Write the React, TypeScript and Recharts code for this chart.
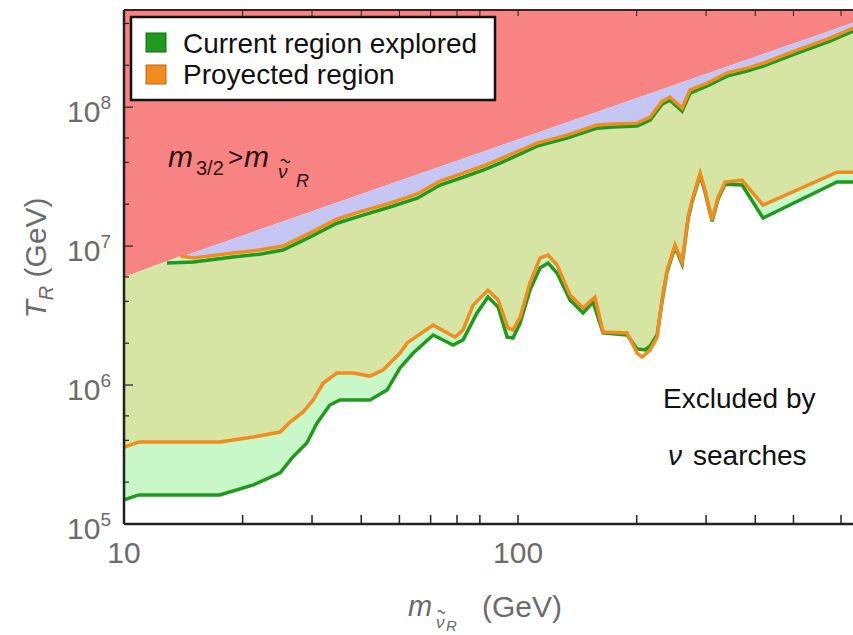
import { ComposedChart, Area, Line, XAxis, YAxis } from "recharts";

// [m (GeV), T_R (GeV)] pairs
const gravitinoBound: [number, number][] = [
  [10, 6.0e6],
  [708, 4.05e8],
];

const currentUpper: [number, number][] = [
  [12.85, 7.55e6], [15.0, 7.67e6], [18.9, 8.34e6], [22.1, 8.75e6], [25.3, 9.36e6],
  [29.6, 1.16e7], [34.7, 1.46e7], [40.4, 1.67e7], [47.3, 1.91e7], [55.5, 2.21e7],
  [63.4, 2.75e7], [72.5, 3.13e7], [81.5, 3.52e7], [90.0, 3.95e7], [111.7, 5.24e7],
  [133.1, 5.98e7], [158.7, 7.06e7], [174.2, 7.18e7], [200.4, 7.3e7], [216.4, 8.06e7],
  [231.9, 1.05e8], [243, 1.12e8], [260.8, 9.36e7], [273.3, 1.26e8], [302, 1.42e8],
  [339, 1.67e8], [381, 1.82e8], [419, 1.97e8], [511, 2.45e8], [619, 2.98e8], [708, 3.52e8],
];

const projectedUpper: [number, number][] = [
  [13.9, 8.47e6], [15.0, 8.2e6], [18.9, 8.91e6], [22.1, 9.36e6], [25.3, 1.0e7],
  [29.6, 1.24e7], [34.7, 1.56e7], [40.4, 1.79e7], [47.3, 2.04e7], [55.5, 2.37e7],
  [63.4, 2.94e7], [72.5, 3.35e7], [81.5, 3.77e7], [90.0, 4.23e7], [111.7, 5.51e7],
  [133.1, 6.29e7], [158.7, 7.43e7], [174.2, 7.55e7], [200.4, 7.67e7], [216.4, 8.47e7],
  [231.9, 1.1e8], [243, 1.18e8], [260.8, 9.84e7], [273.3, 1.33e8], [302, 1.49e8],
  [339, 1.76e8], [381, 1.91e8], [419, 2.07e8], [511, 2.57e8], [619, 3.14e8], [708, 3.7e8],
];

const currentLower: [number, number][] = [
  [10, 1.49e5], [10.9, 1.62e5], [17.5, 1.62e5], [21.3, 1.91e5], [24.9, 2.33e5],
  [26.8, 3.03e5], [29.1, 3.83e5], [30.9, 5.33e5], [33.3, 7.18e5], [35.3, 7.8e5],
  [42.1, 7.8e5], [46.5, 9.2e5], [50.2, 1.33e6], [54.2, 1.7e6], [60.9, 2.29e6],
  [68.4, 1.94e6], [72.5, 2.11e6], [78.7, 3.3e6], [83.9, 4.3e6], [89.0, 3.64e6],
  [93.8, 2.21e6], [97.1, 2.18e6], [101.2, 2.79e6], [107.2, 4.82e6], [113.7, 6.95e6],
  [119.2, 7.55e6], [125.6, 6.39e6], [135.5, 4.09e6], [146.2, 3.3e6], [155.0, 3.96e6],
  [164.3, 2.37e6], [189.1, 2.29e6], [200.4, 1.82e6], [210.1, 1.79e6], [216.4, 1.91e6],
  [225.4, 2.29e6], [231.9, 3.96e6], [238.8, 6.5e6], [250.3, 9.84e6], [260.8, 7.43e6],
  [270.1, 1.56e7], [276.4, 2.07e7], [289.8, 3.24e7], [298.3, 2.44e7], [310.8, 1.51e7],
  [321.8, 2.18e7], [335.3, 2.79e7], [370.3, 2.75e7], [418.6, 1.59e7], [645, 2.89e7],
  [708, 2.89e7],
];

const projectedLower: [number, number][] = [
  [10, 3.58e5], [10.9, 3.89e5], [17.5, 3.89e5], [21.3, 4.23e5], [24.9, 4.59e5],
  [26.4, 5.42e5], [28.5, 6.4e5], [30.2, 7.8e5], [32.0, 1.03e6], [34.7, 1.22e6],
  [38.1, 1.22e6], [42.1, 1.16e6], [45.4, 1.28e6], [50.2, 1.7e6], [52.3, 2.01e6],
  [60.9, 2.7e6], [69.2, 2.21e6], [72.5, 2.49e6], [76.9, 3.76e6], [83.9, 4.82e6],
  [89.0, 4.09e6], [94.3, 2.57e6], [97.1, 2.49e6], [101.2, 3.08e6], [107.2, 5.42e6],
  [113.7, 8.2e6], [119.2, 8.61e6], [125.6, 7.3e6], [135.5, 4.44e6], [146.2, 3.58e6],
  [156.7, 4.3e6], [164.3, 2.41e6], [189.1, 2.37e6], [200.4, 1.7e6], [206.4, 1.59e6],
  [216.4, 1.79e6], [225.4, 2.21e6], [231.9, 4.09e6], [238.8, 6.71e6], [250.3, 1.02e7],
  [260.8, 7.67e6], [270.1, 1.62e7], [276.4, 2.14e7], [289.8, 3.35e7], [298.3, 2.53e7],
  [310.8, 1.54e7], [321.8, 2.25e7], [335.3, 2.89e7], [370.3, 2.98e7], [418.6, 1.97e7],
  [645, 3.4e7], [708, 3.4e7],
];

const xTicks = [10, 20, 30, 40, 50, 60, 70, 80, 90, 100, 200, 300, 400, 500, 600, 700];
const xLabels = [10, 100];
const yTicks = [
  1e5, 2e5, 3e5, 4e5, 5e5, 6e5, 7e5, 8e5, 9e5,
  1e6, 2e6, 3e6, 4e6, 5e6, 6e6, 7e6, 8e6, 9e6,
  1e7, 2e7, 3e7, 4e7, 5e7, 6e7, 7e7, 8e7, 9e7,
  1e8, 2e8, 3e8, 4e8,
];
const X_DOMAIN: [number, number] = [10, 708];
const Y_DOMAIN: [number, number] = [1e5, 5e8];

const FONT = "'Liberation Sans', Arial, Helvetica, sans-serif";
const LABEL_GREY = "#6b6b6b";
const FRAME = "#222";
const GREEN = "#1f9a1f";
const ORANGE = "#f28c1e";

// plot box in pixels
const LEFT = 124;
const TOP = 10;
const BOTTOM = 524;
const RIGHT = 853;

const rows = (pts: [number, number][]) => pts.map(([m, t]) => ({ m, t }));

const isDecade = (v: number) => Math.abs(Math.log10(v) - Math.round(Math.log10(v))) < 1e-6;

const BottomTick = (props: any) => {
  const { x, payload } = props;
  const v = payload.value;
  return (
    <g>
      <line x1={x} x2={x} y1={BOTTOM} y2={BOTTOM - 9} stroke={FRAME} strokeWidth={1.5} />
      {xLabels.includes(v) && (
        <text x={x} y={BOTTOM + 39} textAnchor="middle" fontSize={30} fill={LABEL_GREY} fontFamily={FONT}>
          {v}
        </text>
      )}
    </g>
  );
};

const TopTick = (props: any) => {
  const { x } = props;
  return <line x1={x} x2={x} y1={TOP} y2={TOP + 6} stroke={FRAME} strokeWidth={1} />;
};

const LeftTick = (props: any) => {
  const { y, payload } = props;
  const v = payload.value;
  const major = isDecade(v);
  return (
    <g>
      <line x1={LEFT} x2={LEFT + (major ? 9 : 5)} y1={y} y2={y} stroke={FRAME} strokeWidth={1.2} />
      {major && (
        <text x={111} y={y + 15} textAnchor="end" fontSize={30} fill={LABEL_GREY} fontFamily={FONT}>
          <tspan>10</tspan>
          <tspan fontSize={19} dy={-13}>{Math.round(Math.log10(v))}</tspan>
        </text>
      )}
    </g>
  );
};

const RightTick = (props: any) => {
  const { y, payload } = props;
  const major = isDecade(payload.value);
  return <line x1={RIGHT} x2={RIGHT - (major ? 8 : 4)} y1={y} y2={y} stroke={FRAME} strokeWidth={1} />;
};

// small tilde accent drawn as a path
const Tilde = ({ x, y, w, color }: { x: number; y: number; w: number; color: string }) => (
  <path
    d={`M${x} ${y} q${w / 4} ${-w / 3} ${w / 2} 0 t${w / 2} 0`}
    stroke={color}
    strokeWidth={1.5}
    fill="none"
  />
);

const fillProps = { type: "linear" as const, dataKey: "t", stroke: "none", fillOpacity: 1, isAnimationActive: false };
const lineProps = { type: "linear" as const, dataKey: "t", dot: false, strokeWidth: 3.5, isAnimationActive: false };

export default function App() {
  const bound = rows(gravitinoBound);
  return (
    <div
      style={{
        position: "absolute",
        left: 0,
        top: 0,
        width: 853,
        height: 635,
        overflow: "hidden",
        background: "#fff",
        fontFamily: FONT,
      }}
    >
      <ComposedChart width={853} height={635} margin={{ top: 0, right: 0, bottom: 0, left: 0 }}>
        <XAxis
          dataKey="m"
          type="number"
          scale="log"
          domain={X_DOMAIN}
          allowDataOverflow
          ticks={xTicks}
          tick={BottomTick}
          tickLine={false}
          tickSize={0}
          height={111}
          axisLine={{ stroke: FRAME, strokeWidth: 2.5 }}
        />
        <XAxis
          xAxisId="top"
          orientation="top"
          dataKey="m"
          type="number"
          scale="log"
          domain={X_DOMAIN}
          allowDataOverflow
          ticks={xTicks}
          tick={TopTick}
          tickLine={false}
          tickSize={0}
          height={TOP}
          axisLine={{ stroke: "#3a2020", strokeWidth: 2 }}
        />
        <YAxis
          dataKey="t"
          type="number"
          scale="log"
          domain={Y_DOMAIN}
          allowDataOverflow
          ticks={yTicks}
          tick={LeftTick}
          tickLine={false}
          tickSize={0}
          width={LEFT}
          axisLine={{ stroke: FRAME, strokeWidth: 2.5 }}
        />
        <YAxis
          yAxisId="right"
          orientation="right"
          type="number"
          scale="log"
          domain={Y_DOMAIN}
          allowDataOverflow
          ticks={yTicks}
          tick={RightTick}
          tickLine={false}
          tickSize={0}
          width={0}
          axisLine={false}
        />

        {/* m_3/2 > m_sneutrino region and the gap below it */}
        <Area {...fillProps} data={bound} fill="#f88383" baseValue={Y_DOMAIN[1]} />
        <Area {...fillProps} data={bound} fill="#c6c6f4" baseValue={Y_DOMAIN[0]} />

        {/* allowed bands */}
        <Area {...fillProps} data={[bound[0], ...rows(projectedUpper)]} fill="#cdf5c4" baseValue={Y_DOMAIN[0]} />
        <Area {...fillProps} data={[bound[0], ...rows(currentUpper)]} fill="#d6e4a4" baseValue={Y_DOMAIN[0]} />
        <Area {...fillProps} data={rows(projectedLower)} fill="#c8f7c8" baseValue={Y_DOMAIN[0]} />
        <Area {...fillProps} data={rows(currentLower)} fill="#ffffff" baseValue={Y_DOMAIN[0]} />

        <Line {...lineProps} data={rows(currentUpper)} stroke={GREEN} />
        <Line {...lineProps} data={rows(currentLower)} stroke={GREEN} />
        <Line {...lineProps} data={rows(projectedUpper)} stroke={ORANGE} />
        <Line {...lineProps} data={rows(projectedLower)} stroke={ORANGE} />
      </ComposedChart>

      <svg
        width={853}
        height={635}
        style={{ position: "absolute", left: 0, top: 0, pointerEvents: "none" }}
        fontFamily={FONT}
      >
        {/* legend */}
        <rect x={131} y={17} width={364} height={83} fill="#fff" stroke="#111" strokeWidth={2.5} />
        <rect x={146} y={33} width={20} height={19} fill={GREEN} stroke="#136b13" strokeWidth={1} />
        <rect x={146} y={65} width={20} height={19} fill={ORANGE} stroke="#b86a14" strokeWidth={1} />
        <text x={183} y={53} fontSize={28} fill="#111">Current region explored</text>
        <text x={183} y={84} fontSize={28} fill="#111">Proyected region</text>

        {/* region label */}
        <g fill="#2a1414">
          <text x={168} y={167} fontSize={30} fontStyle="italic">m</text>
          <text x={196} y={175} fontSize={20}>3/2</text>
          <text x={228} y={166} fontSize={26}>&gt;</text>
          <text x={244} y={167} fontSize={30} fontStyle="italic">m</text>
          <text x={278} y={178} fontSize={19} fontStyle="italic">ν</text>
          <text x={296} y={187} fontSize={18} fontStyle="italic">R</text>
        </g>
        <Tilde x={281} y={161} w={9} color="#2a1414" />

        <text x={663} y={408} fontSize={28} fill="#111">Excluded by</text>
        <text x={668} y={465} fontSize={28} fill="#111">
          <tspan fontStyle="italic">ν</tspan>
          <tspan x={693}>searches</tspan>
        </text>

        {/* axis titles */}
        <g transform="translate(46,258) rotate(-90)" fill={LABEL_GREY}>
          <text x={0} y={0} textAnchor="middle" fontSize={30}>
            <tspan fontStyle="italic">T</tspan>
            <tspan fontSize={20} dy={7} fontStyle="italic">R</tspan>
            <tspan dy={-7}>{"\u00a0(GeV)"}</tspan>
          </text>
        </g>
        <g fill={LABEL_GREY}>
          <text x={408} y={616} fontSize={29} fontStyle="italic">m</text>
          <text x={436} y={628} fontSize={17} fontStyle="italic">ν</text>
          <text x={446} y={631} fontSize={15} fontStyle="italic">R</text>
          <text x={482} y={617} fontSize={30}>(GeV)</text>
        </g>
        <Tilde x={438} y={612} w={7} color={LABEL_GREY} />
      </svg>
    </div>
  );
}
